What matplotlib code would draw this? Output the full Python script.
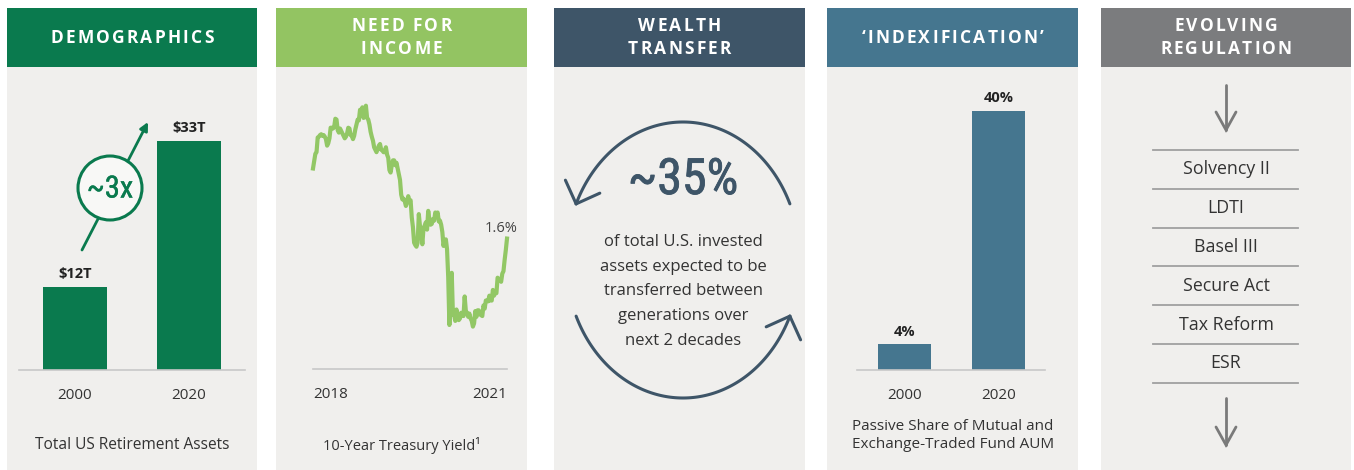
import matplotlib
matplotlib.use('Agg')
import matplotlib.pyplot as plt
from matplotlib import font_manager as fm
from matplotlib import patheffects as pe
from matplotlib.patches import Rectangle, Circle
import numpy as np
import pandas as pd

plt.rcParams['font.family'] = ['Open Sans', 'DejaVu Sans']

# ---- data ----
headers = [['DEMOGRAPHICS'], ['NEED FOR', 'INCOME'], ['WEALTH', 'TRANSFER'],
           ["\u2018INDEXIFICATION\u2019"], ['EVOLVING', 'REGULATION']]

retire_years = ['2000', '2020']
retire_assets = [12, 33]          # $ trillions
retire_labels = ['$12T', '$33T']

# 10-year treasury yield, roughly weekly, Jan 2018 - Feb 2021
yields = [
    2.46, 2.55, 2.64, 2.66, 2.84, 2.85, 2.87, 2.88, 2.86, 2.87, 2.85, 2.82, 2.74,
    2.77, 2.83, 2.96, 2.96, 2.95, 2.97, 3.07, 3.06, 2.93, 2.90, 2.95, 2.92, 2.89, 2.86,
    2.83, 2.85, 2.89, 2.96, 2.95, 2.87, 2.86, 2.82, 2.86, 2.94, 3.00, 3.06, 3.05,
    3.18, 3.16, 3.21, 3.08, 3.14, 3.23, 3.08, 3.06, 3.00, 2.91, 2.85, 2.80, 2.72, 2.69,
    2.66, 2.70, 2.74, 2.76, 2.69, 2.68, 2.66, 2.66, 2.72, 2.63, 2.59, 2.44, 2.41,
    2.50, 2.56, 2.56, 2.50, 2.53, 2.46, 2.39, 2.32, 2.14, 2.08, 2.09, 2.06, 2.00,
    2.04, 2.12, 2.05, 2.07, 1.86, 1.74, 1.55, 1.52, 1.50, 1.55, 1.90, 1.75, 1.69,
    1.53, 1.73, 1.76, 1.80, 1.71, 1.94, 1.83, 1.77, 1.78, 1.84, 1.82, 1.92, 1.88, 1.92,
    1.81, 1.82, 1.77, 1.68, 1.51, 1.58, 1.59, 1.47, 1.13, 0.54, 0.95, 1.18, 0.67, 0.67,
    0.59, 0.73, 0.65, 0.60, 0.62, 0.69, 0.66, 0.65, 0.89, 0.71, 0.69, 0.64,
    0.68, 0.62, 0.59, 0.52, 0.56, 0.71, 0.64, 0.72, 0.72, 0.67, 0.66, 0.65,
    0.78, 0.74, 0.84, 0.84, 0.83, 0.90, 0.84, 0.84, 0.97, 0.90, 0.95, 0.93,
    1.12, 1.10, 1.09, 1.07, 1.17, 1.20, 1.34, 1.46, 1.60,
]
yield_dates = pd.date_range('2018-01-02', '2021-02-26', periods=len(yields))

wealth_pct = '~35%'
wealth_lines = ['of total U.S. invested', 'assets expected to be',
                'transferred between', 'generations over', 'next 2 decades']

passive_years = ['2000', '2020']
passive_share = [4, 40]           # percent
passive_labels = ['4%', '40%']

regulations = ['Solvency II', 'LDTI', 'Basel III', 'Secure Act', 'Tax Reform', 'ESR']

# ---- colours ----
GREEN = '#0a7a4e'
LGREEN = '#93c462'
SLATE = '#3e5568'
TEAL = '#45768f'
GREY = '#7b7c7e'
BODY = '#f0efed'
TXT = '#333333'
head_colors = [GREEN, LGREEN, SLATE, TEAL, GREY]
panel_x = [(7, 257), (276, 527), (554, 805), (827, 1078), (1101, 1351)]


# look for a condensed face for the big numbers
def find_narrow():
    fonts = fm.fontManager.ttflist
    prefs = ['Open Sans Condensed', 'Liberation Sans Narrow', 'Roboto Condensed',
             'DejaVu Sans Condensed', 'Noto Sans Condensed']
    for p in prefs:
        for f in fonts:
            if f.name == p and f.style == 'normal' and f.weight in (300, 400, 'light', 'normal', 'regular'):
                return f.fname
    for f in fonts:
        n = f.name.lower()
        if ('condensed' in n or 'narrow' in n or f.stretch in ('condensed', 'semi-condensed')) \
                and f.style == 'normal' and f.weight in (300, 400, 'light', 'normal', 'regular'):
            return f.fname
    return None


narrow_file = find_narrow()


def narrow_font(size):
    if narrow_file:
        return fm.FontProperties(fname=narrow_file, size=size)
    return fm.FontProperties(family='Roboto', size=size)


W, H = 1354, 470
fig = plt.figure(figsize=(W / 100, H / 100), dpi=100)
fig.patch.set_facecolor('white')
bg = fig.add_axes([0, 0, 1, 1])
bg.set_xlim(0, W)
bg.set_ylim(H, 0)
bg.axis('off')
renderer = fig.canvas.get_renderer()


def px_axes(x0, y0, x1, y1):
    a = fig.add_axes([x0 / W, 1 - y1 / H, (x1 - x0) / W, (y1 - y0) / H])
    a.patch.set_alpha(0)
    return a


def spaced_text(x, y, s, ls, **kw):
    # draw text with extra letter spacing (pixels)
    widths = []
    for ch in s:
        t = bg.text(0, 0, ch, **kw)
        w = t.get_window_extent(renderer).width
        t.remove()
        widths.append(w if w > 1 else kw.get('fontsize', 12) * 0.35)
    total = sum(widths) + ls * (len(s) - 1)
    cur = x - total / 2
    for ch, w in zip(s, widths):
        bg.text(cur + w / 2, y, ch, ha='center', va='center', **kw)
        cur += w + ls


# panels and headers
for (x0, x1), col, lines in zip(panel_x, head_colors, headers):
    bg.add_patch(Rectangle((x0, 67), x1 - x0, H - 67, fc=BODY, ec='none'))
    bg.add_patch(Rectangle((x0, 8), x1 - x0, 59, fc=col, ec='none'))
    ys = [38] if len(lines) == 1 else [26, 49]
    for yy, ln in zip(ys, lines):
        spaced_text((x0 + x1) / 2, yy, ln, 2.2, fontsize=12.5, fontweight='bold', color='white')


def bar_panel(ax, vals, labels, years, color, xlim):
    ax.bar(range(len(vals)), vals, width=0.56, color=color)
    ax.set_xlim(*xlim)
    for s in ['top', 'left', 'right']:
        ax.spines[s].set_visible(False)
    ax.spines['bottom'].set_color('#c8c8c8')
    ax.spines['bottom'].set_linewidth(1.2)
    ax.set_yticks([])
    ax.set_xticks(range(len(vals)), years)
    ax.tick_params(axis='x', length=0, pad=13, labelsize=11, labelcolor=TXT)
    for i, (v, lb) in enumerate(zip(vals, labels)):
        ax.annotate(lb, (i, v), xytext=(0, 4), textcoords='offset points',
                    ha='center', va='bottom', fontsize=10.5, fontweight='bold', color='#222222')


# panel 1: retirement assets
ax1 = px_axes(19, 127, 245, 370)
bar_panel(ax1, retire_assets, retire_labels, retire_years, GREEN, (-0.491, 1.491))
ax1.set_ylim(0, 35)
bg.text(132, 445, 'Total US Retirement Assets', ha='center', va='center', fontsize=11.2, color=TXT)
bg.annotate('', xy=(148, 122), xytext=(82, 250),
            arrowprops=dict(arrowstyle='-|>', color=GREEN, lw=2, mutation_scale=12, shrinkA=0, shrinkB=0))
bg.add_patch(Circle((110, 188), 32, fc='#f8f8f6', ec=GREEN, lw=2.2, zorder=3))
bg.text(110, 189, '~3x', ha='center', va='center', color=GREEN, zorder=4,
        fontproperties=narrow_font(22),
        path_effects=[pe.withStroke(linewidth=0.3, foreground=GREEN)])

# panel 2: treasury yield
ax2 = px_axes(313, 100, 507, 369)
ax2.plot(yield_dates, yields, color='#92c765', lw=3, solid_joinstyle='round', clip_on=False)
ax2.set_ylim(0, 3.3)
ax2.set_xlim(yield_dates[0], yield_dates[-1])
for s in ['top', 'left', 'right']:
    ax2.spines[s].set_visible(False)
ax2.spines['bottom'].set_color('#c8c8c8')
ax2.spines['bottom'].set_linewidth(1.2)
ax2.set_yticks([])
ax2.set_xticks([yield_dates[0], yield_dates[-1]], ['2018', '2021'])
ax2.tick_params(axis='x', length=0, pad=13, labelsize=11, labelcolor=TXT)
tl = ax2.get_xticklabels()
tl[0].set_ha('left')
tl[1].set_ha('right')
ax2.annotate(f'{yields[-1]:.1f}%', (yield_dates[-1], yields[-1]), xytext=(-4, 7),
             textcoords='offset points', ha='center', va='center', fontsize=10.5, color='#444444')
bg.text(402, 445, '10-Year Treasury Yield\u00b9', ha='center', va='center', fontsize=10.5, color=TXT)

# panel 3: wealth transfer
cx, cy, ea, eb = 683, 260, 117, 138
for t0, t1 in [(24, 156), (204, 336)]:
    t = np.radians(np.linspace(t0, t1, 120))
    bg.plot(cx + ea * np.cos(t), cy - eb * np.sin(t), color=SLATE, lw=2.2, solid_capstyle='round')
    te = np.radians(t1)
    tip = np.array([cx + ea * np.cos(te), cy - eb * np.sin(te)])
    d = np.array([-ea * np.sin(te), -eb * np.cos(te)])
    back = -d / np.hypot(*d)
    for ang in (45, -45):
        r = np.radians(ang)
        v = np.array([np.cos(r) * back[0] - np.sin(r) * back[1],
                      np.sin(r) * back[0] + np.cos(r) * back[1]])
        bg.plot([tip[0], tip[0] + 26 * v[0]], [tip[1], tip[1] + 26 * v[1]],
                color=SLATE, lw=2.2, solid_capstyle='round')
bg.text(683, 180, wealth_pct, ha='center', va='center', color=SLATE,
        fontproperties=narrow_font(36),
        path_effects=[pe.withStroke(linewidth=0.6, foreground=SLATE)])
for i, ln in enumerate(wealth_lines):
    bg.text(683, 242 + i * 24.7, ln, ha='center', va='center', fontsize=12, color=TXT)

# panel 4: passive share
ax4 = px_axes(857, 85, 1045, 370)
bar_panel(ax4, passive_share, passive_labels, passive_years, TEAL, (-0.505, 1.495))
ax4.set_ylim(0, 44)
bg.text(953, 427, 'Passive Share of Mutual and', ha='center', va='center', fontsize=11, color=TXT)
bg.text(953, 445, 'Exchange-Traded Fund AUM', ha='center', va='center', fontsize=11, color=TXT)

# panel 5: regulation list
ARR = '#7a7a7a'
for y0, y1 in [(85, 130), (398, 445)]:
    bg.plot([1226, 1226], [y0, y1], color=ARR, lw=2, solid_capstyle='round')
    bg.plot([1216, 1226, 1236], [y1 - 18, y1, y1 - 18], color=ARR, lw=2,
            solid_capstyle='round', solid_joinstyle='miter')
row_top, row_h = 150, 38.8
for i in range(len(regulations) + 1):
    bg.plot([1153, 1298], [row_top + i * row_h] * 2, color='#a0a0a0', lw=1.3)
for i, reg in enumerate(regulations):
    bg.text(1226, row_top + (i + 0.5) * row_h, reg, ha='center', va='center', fontsize=12.8, color=TXT)

fig.savefig('out.png', dpi=100)
